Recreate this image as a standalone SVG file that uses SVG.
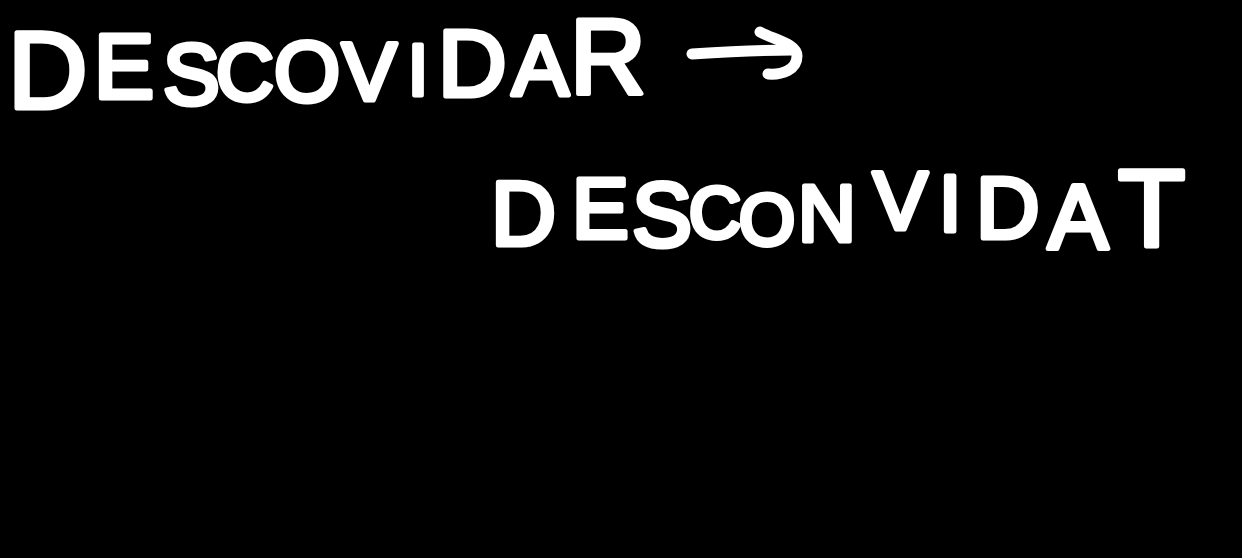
<svg xmlns="http://www.w3.org/2000/svg" width="1242" height="558" viewBox="0 0 1242 558">
<style>
.hand{font-family:"Liberation Sans",Arial,sans-serif;fill:#fff;stroke:#fff;stroke-width:5px;stroke-linejoin:round;stroke-linecap:round}
.ink{fill:none;stroke:#fff;stroke-width:11;stroke-linecap:round;stroke-linejoin:round}
</style>
<rect width="1242" height="558" fill="#000"/>
<g id="word-descovidar">
<text class="hand"><tspan x="8" y="108" font-size="110">D</tspan><tspan x="94" y="98" font-size="90">E</tspan><tspan x="163" y="104" font-size="85">S</tspan><tspan x="216" y="100" font-size="80">C</tspan><tspan x="274" y="101" font-size="85">O</tspan><tspan x="342" y="100" font-size="82">V</tspan><tspan x="408" y="95" font-size="72">I</tspan><tspan x="438" y="96" font-size="95">D</tspan><tspan x="512" y="95" font-size="85">A</tspan><tspan x="570" y="93" font-size="105">R</tspan></text>
</g>
<g id="word-desconvidat">
<text class="hand"><tspan x="491" y="245" font-size="90">D</tspan><tspan x="572" y="238" font-size="85">E</tspan><tspan x="632" y="246" font-size="90">S</tspan><tspan x="689" y="238" font-size="72">C</tspan><tspan x="739" y="245" font-size="72">O</tspan><tspan x="798" y="241" font-size="80">N</tspan><tspan x="873" y="229" font-size="82">V</tspan><tspan x="939" y="231" font-size="80">I</tspan><tspan x="976" y="238" font-size="88">D</tspan><tspan x="1048" y="248" font-size="90">A</tspan><tspan x="1118" y="246" font-size="110">T</tspan></text>
</g>
<g id="connectors">
<path class="ink" d="M692 54C725 52 760 50 792 50"/>
<path class="ink" d="M760 32C775 40 797 44 797 56C797 70 782 75 768 74"/>
</g>
</svg>
